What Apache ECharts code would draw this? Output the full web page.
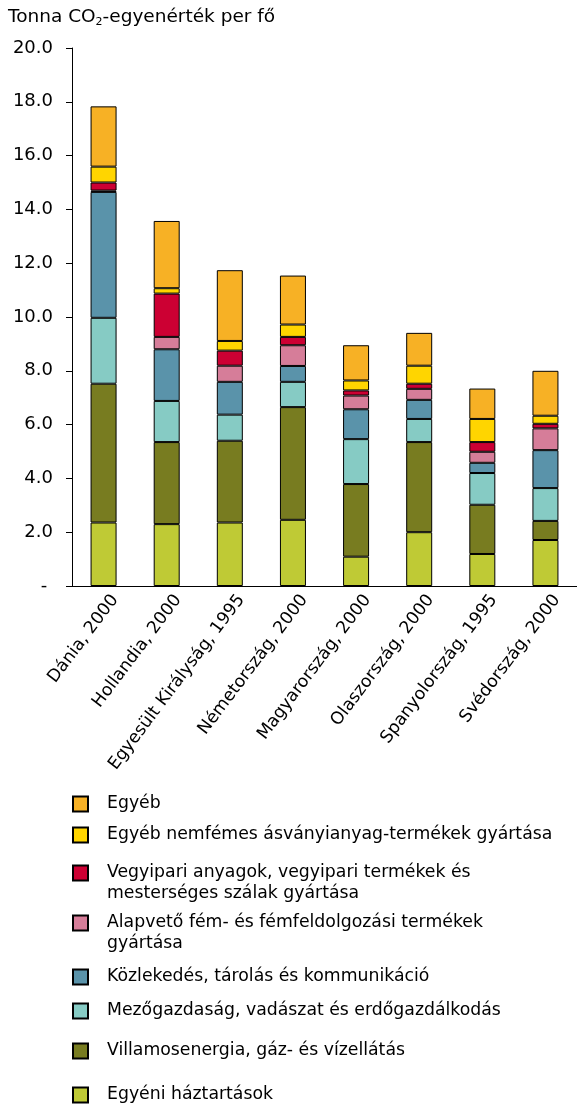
<!DOCTYPE html>
<html>
<head>
<meta charset="utf-8">
<script src="https://cdn.jsdelivr.net/npm/echarts@6/dist/echarts.min.js"></script>
<style>
  html, body { margin: 0; padding: 0; background: #fff; }
  #chart { width: 577px; height: 1106px; }
</style>
</head>
<body>
<div id="chart"></div>
<script>
// Per-capita greenhouse gas emissions by sector (tonnes CO2-equivalent per person)
const categories = [
  'Dánia, 2000', 'Hollandia, 2000', 'Egyesült Királyság, 1995', 'Németország, 2000',
  'Magyarország, 2000', 'Olaszország, 2000', 'Spanyolország, 1995', 'Svédország, 2000'
];

// Sectors, stacked from the bottom of each bar upwards
const sectorNames = [
  'Egyéni háztartások',
  'Villamosenergia, gáz- és vízellátás',
  'Mezőgazdaság, vadászat és erdőgazdálkodás',
  'Közlekedés, tárolás és kommunikáció',
  'Alapvető fém- és fémfeldolgozási termékek gyártása',
  'Vegyipari anyagok, vegyipari termékek és mesterséges szálak gyártása',
  'Egyéb nemfémes ásványianyag-termékek gyártása',
  'Egyéb'
];

const households   = [2.36, 2.30, 2.36, 2.46, 1.09, 2.00, 1.19, 1.71];
const electricity  = [5.16, 3.05, 3.04, 4.19, 2.70, 3.35, 1.83, 0.71];
const agriculture  = [2.45, 1.53, 0.97, 0.94, 1.67, 0.86, 1.18, 1.22];
const transport    = [4.68, 1.92, 1.22, 0.59, 1.11, 0.71, 0.38, 1.41];
const basicMetals  = [0.05, 0.46, 0.60, 0.77, 0.51, 0.41, 0.41, 0.81];
const chemicals    = [0.30, 1.61, 0.56, 0.31, 0.19, 0.19, 0.36, 0.17];
const nonMetallic  = [0.59, 0.20, 0.36, 0.46, 0.37, 0.67, 0.86, 0.30];
const other        = [2.24, 2.50, 2.63, 1.82, 1.31, 1.22, 1.13, 1.67];

const yTicks = [0, 2, 4, 6, 8, 10, 12, 14, 16, 18, 20];

const sectorValues = [households, electricity, agriculture, transport, basicMetals, chemicals, nonMetallic, other];
const sectorColors = ['#BFCA35', '#787C20', '#86CBC4', '#5A93AA', '#D67D99', '#CC0033', '#FFD500', '#F7B125'];

// Legend text with manual line breaks for the long entries
const legendText = {
  'Vegyipari anyagok, vegyipari termékek és mesterséges szálak gyártása':
    'Vegyipari anyagok, vegyipari termékek és\nmesterséges szálak gyártása',
  'Alapvető fém- és fémfeldolgozási termékek gyártása':
    'Alapvető fém- és fémfeldolgozási termékek\ngyártása'
};

const FONT = 'DejaVu Sans, Verdana, sans-serif';
const LEGEND_LH = 21;

const series = sectorNames.map((name, i) => ({
  name: name,
  type: 'bar',
  stack: 'total',
  barWidth: 26,
  data: sectorValues[i],
  itemStyle: { color: sectorColors[i], borderColor: '#000', borderWidth: 1 },
  emphasis: { disabled: true }
}));

// Legend rows listed top to bottom; first-line centre of each row in px
const legendOrder = sectorNames.slice().reverse();
const legendCenters = [804, 835, 873, 923, 977, 1011, 1051, 1095];

const legends = legendOrder.map((name, i) => {
  const twoLine = !!legendText[name];
  return {
    data: [name],
    left: 72,
    // two-line entries get a leading empty line so the icon sits beside the first line
    top: legendCenters[i] - (twoLine ? 1.5 * LEGEND_LH : 0.5 * LEGEND_LH),
    padding: 0,
    itemWidth: 15,
    itemHeight: 15,
    icon: 'rect',
    formatter: n => legendText[n] ? '\n' + legendText[n] : n,
    textStyle: {
      fontFamily: FONT, fontSize: 17.3, color: '#000', lineHeight: LEGEND_LH,
      padding: [0, 0, 0, 14]
    }
  };
});

const chart = echarts.init(document.getElementById('chart'), null, { renderer: 'canvas' });
chart.setOption({
  animation: false,
  backgroundColor: '#fff',
  title: {
    text: '{a|Tonna CO}{sub|2}{a|-egyenérték per fő}',
    left: 8,
    top: 6,
    padding: 0,
    textStyle: {
      fontWeight: 'normal',
      rich: {
        a: { fontFamily: FONT, fontSize: 18.5, fontWeight: 'normal', color: '#000', lineHeight: 22 },
        sub: { fontFamily: FONT, fontSize: 11, fontWeight: 'normal', color: '#000', lineHeight: 6, verticalAlign: 'bottom' }
      }
    }
  },
  legend: legends,
  grid: { left: 72, top: 48, width: 507, height: 538 },
  xAxis: {
    type: 'category',
    data: categories,
    axisLine: { lineStyle: { color: '#000', width: 1 } },
    axisTick: { length: 8, lineStyle: { color: '#000' } },
    axisLabel: {
      interval: 0, rotate: 53, margin: 26,
      // nudge each label along its baseline so it ends just right of the tick centre
      padding: [0, -19, 0, 0],
      fontFamily: FONT, fontSize: 17.3, color: '#000'
    }
  },
  yAxis: {
    type: 'value',
    min: yTicks[0],
    max: yTicks[yTicks.length - 1],
    interval: yTicks[1] - yTicks[0],
    splitLine: { show: false },
    axisLine: { show: true, lineStyle: { color: '#000', width: 1 } },
    axisTick: { show: true, length: 6, lineStyle: { color: '#000' } },
    axisLabel: {
      margin: 19,
      fontFamily: FONT, fontSize: 18, color: '#000',
      formatter: v => v === 0 ? '- ' : v.toFixed(1)
    }
  },
  series: series
});
</script>
</body>
</html>
